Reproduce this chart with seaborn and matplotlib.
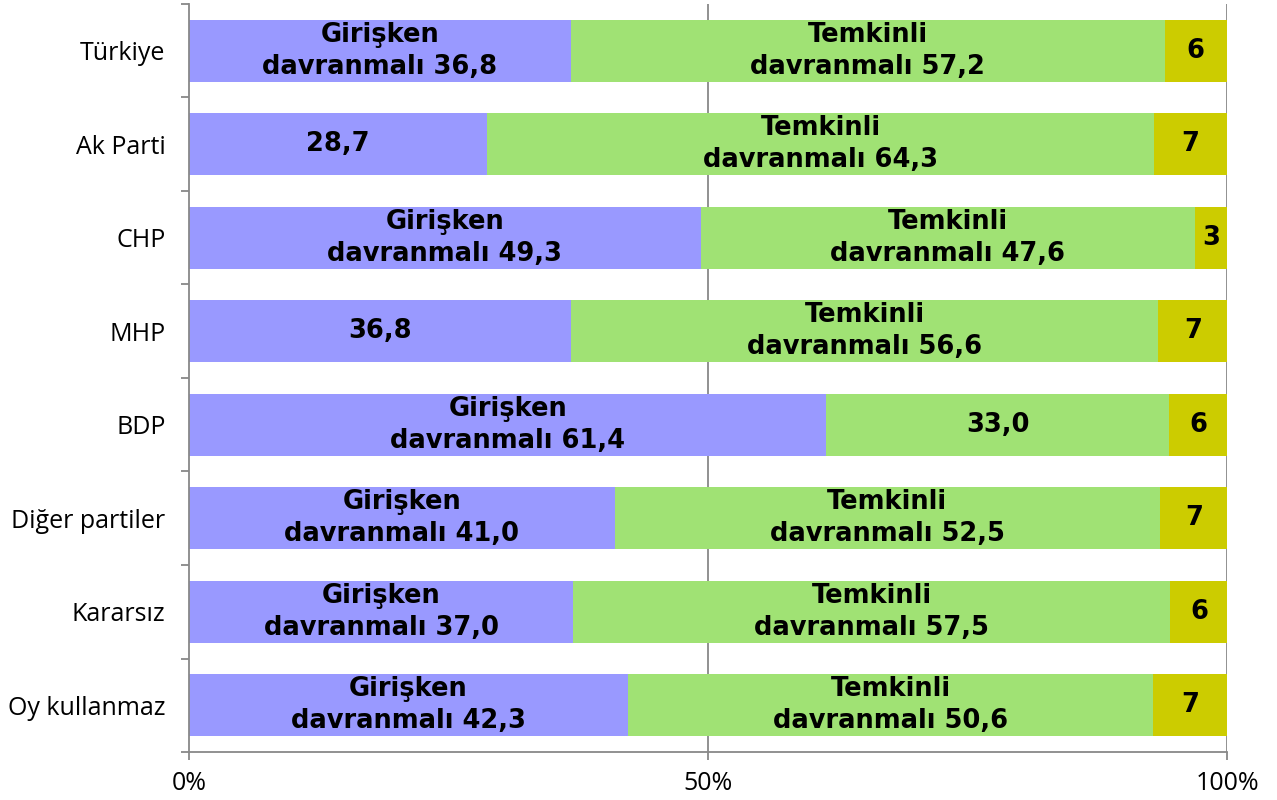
import numpy as np
import pandas as pd
import matplotlib
matplotlib.use("Agg")
from matplotlib import pyplot as plt
import seaborn as sns

# data
categories = ["Türkiye", "Ak Parti", "CHP", "MHP", "BDP", "Diğer partiler", "Kararsız", "Oy kullanmaz"]
girisken = [36.8, 28.7, 49.3, 36.8, 61.4, 41.0, 37.0, 42.3]
temkinli = [57.2, 64.3, 47.6, 56.6, 33.0, 52.5, 57.5, 50.6]
diger = [6.0, 7.0, 3.1, 6.6, 5.6, 6.6, 5.6, 7.1]

# which segments carry the long "... davranmalı" label
g_long = [True, False, True, False, True, True, True, True]
t_long = [True, True, True, True, False, True, True, True]

def fmt(v):
    return f"{v:.1f}".replace(".", ",")

g_labels = [("Girişken\ndavranmalı " if l else "") + fmt(v) for v, l in zip(girisken, g_long)]
t_labels = [("Temkinli\ndavranmalı " if l else "") + fmt(v) for v, l in zip(temkinli, t_long)]
d_labels = [f"{v:.0f}" for v in diger]

df = pd.DataFrame({"cat": categories, "g": girisken, "t": temkinli, "d": diger})
df["gt"] = df["g"] + df["t"]
df["all"] = df["gt"] + df["d"]

sns.set_style("white")
plt.rcParams["font.family"] = ["Open Sans", "DejaVu Sans"]
plt.rcParams["text.color"] = "black"
plt.rcParams["xtick.color"] = "black"
plt.rcParams["ytick.color"] = "black"

fig = plt.figure(figsize=(12.77, 8), dpi=100)
ax = fig.add_axes([189 / 1277, 48 / 800, 1038 / 1277, 748 / 800])

ax.axvline(50, color="#888888", lw=1.3, zorder=0)
ax.axvline(100, color="#888888", lw=1.3, zorder=0)

kw = dict(y="cat", orient="h", width=0.66, saturation=1, ax=ax, edgecolor="none", zorder=2)
sns.barplot(data=df, x="all", color="#CCCC00", **kw)
sns.barplot(data=df, x="gt", color="#A0E274", **kw)
sns.barplot(data=df, x="g", color="#9999FF", **kw)

txt = dict(ha="center", va="center", fontsize=18.5, fontweight="bold", color="black",
           family=["DejaVu Sans"], linespacing=1.3, zorder=3)
for i in range(len(categories)):
    ax.text(girisken[i] / 2, i, g_labels[i], **txt)
    ax.text(girisken[i] + temkinli[i] / 2, i, t_labels[i], **txt)
    ax.text(girisken[i] + temkinli[i] + diger[i] / 2, i, d_labels[i], **txt)

ax.set_xlim(0, 100)
ax.set_ylim(len(categories) - 0.5, -0.5)
ax.set_xticks([0, 50, 100])
ax.set_xticklabels(["0%", "50%", "100%"], fontsize=18)
ax.set_yticks(range(len(categories)))
ax.set_yticklabels(categories, fontsize=18)
ax.set_yticks(np.arange(-0.5, len(categories)), minor=True)
ax.tick_params(axis="y", which="major", length=0, pad=17)
ax.tick_params(axis="y", which="minor", length=6, color="#888888", width=1.3, direction="out", left=True)
ax.tick_params(axis="x", which="major", length=6, color="#888888", width=1.3, direction="out", bottom=True, pad=8)
ax.set_xlabel("")
ax.set_ylabel("")
for s in ["top", "right"]:
    ax.spines[s].set_visible(False)
for s in ["left", "bottom"]:
    ax.spines[s].set_color("#888888")
    ax.spines[s].set_linewidth(1.3)

fig.savefig("out.png", dpi=100)
